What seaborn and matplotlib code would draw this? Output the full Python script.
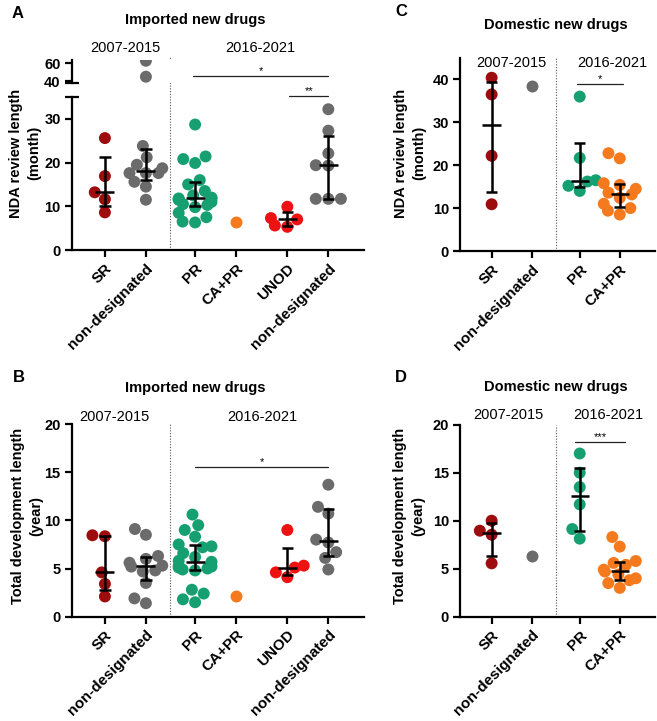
import numpy as np
import pandas as pd
import matplotlib
matplotlib.use("Agg")
import matplotlib.pyplot as plt
import seaborn as sns

# tick labels
imp_labels = ["SR", "non-designated", "PR", "CA+PR", "UNOD", "non-designated"]
dom_labels = ["SR", "non-designated", "PR", "CA+PR"]
periods = ["2007-2015", "2016-2021"]

# A: imported new drugs, NDA review length (month)
a_sr = [25.6, 16.9, 13.2, 11.6, 8.6]
a_nd1 = [62.7, 45.0, 23.8, 21.2, 19.5, 18.7, 17.6, 17.6, 17.6, 15.6, 14.5, 11.5]
a_pr = [28.7, 21.4, 20.8, 19.9, 16.0, 15.0, 13.5, 12.5, 12.0, 11.8, 11.8, 11.6,
        11.5, 11.0, 10.5, 10.3, 9.8, 8.5, 7.5, 6.5, 6.3]
a_capr = [6.5]
a_unod = [9.9, 7.3, 7.0, 5.6, 5.3]
a_nd2 = [32.2, 27.3, 22.1, 19.4, 19.3, 11.7, 11.7, 11.7]

# B: imported new drugs, total development length (year)
b_sr = [8.45, 8.35, 4.6, 3.4, 2.1]
b_nd1 = [9.1, 8.5, 6.3, 6.0, 5.6, 5.3, 5.2, 4.8, 4.7, 3.5, 1.9, 1.4]
b_pr = [10.6, 9.5, 9.0, 8.3, 7.5, 7.3, 7.2, 6.6, 6.2, 5.8, 5.7, 5.3, 5.2, 5.1,
        5.0, 4.9, 4.8, 2.8, 2.4, 1.8, 1.5]
b_capr = [2.15]
b_unod = [9.0, 5.3, 5.1, 4.6, 4.1]
b_nd2 = [13.7, 11.4, 10.7, 8.0, 7.7, 6.7, 6.1, 4.9]

# C: domestic new drugs, NDA review length (month)
c_sr = [40.4, 36.5, 22.2, 10.9]
c_nd1 = [38.4]
c_pr = [36.0, 21.7, 16.5, 16.2, 15.2, 14.0]
c_capr = [22.8, 21.6, 15.8, 15.4, 14.5, 13.6, 13.2, 12.4, 11.0, 10.0, 9.4, 8.5]

# D: domestic new drugs, total development length (year)
d_sr = [10.0, 8.96, 8.54, 5.56]
d_nd1 = [6.35]
d_pr = [17.0, 15.0, 13.5, 11.7, 9.13, 8.13]
d_capr = [8.3, 7.3, 5.8, 5.6, 5.4, 4.9, 4.7, 4.4, 4.0, 3.8, 3.5, 3.0]

imp_pos = [0, 1, 2.2, 3.2, 4.45, 5.45]
dom_pos = [0, 1, 2.2, 3.2]
DARKRED, GRAY, GREEN, ORANGE, RED = "#9E0D0D", "#6B6B6B", "#16A072", "#F57A1E", "#EE1111"
imp_colors = [DARKRED, GRAY, GREEN, ORANGE, RED, GRAY]
dom_colors = [DARKRED, GRAY, GREEN, ORANGE]

sns.set_style("ticks")
plt.rcParams["font.family"] = ["Liberation Sans", "DejaVu Sans"]
plt.rcParams["axes.linewidth"] = 1.6
for k in ["text.color", "axes.labelcolor", "xtick.color", "ytick.color", "axes.edgecolor"]:
    plt.rcParams[k] = "black"

W, H = 657, 721
fig = plt.figure(figsize=(W / 100, H / 100), dpi=100)


def rect(x0, y0, x1, y1):
    return [x0 / W, 1 - y1 / H, (x1 - x0) / W, (y1 - y0) / H]


def ftext(x, y, s, **kw):
    fig.text(x / W, 1 - y / H, s, ha="center", va="center", **kw)


def swarm(ax, groups, pos, colors, bars=True):
    n = [len(g) for g in groups]
    df = pd.DataFrame({"x": np.repeat(pos, n), "y": np.concatenate(groups),
                       "g": np.repeat([str(i) for i in range(len(groups))], n)})
    pal = {str(i): colors[i] for i in range(len(groups)) if n[i] > 0}
    sns.swarmplot(data=df, x="x", y="y", hue="g", palette=pal, native_scale=True,
                  size=8.6, linewidth=0, legend=False, ax=ax, zorder=3)
    if not bars:
        return
    # median with interquartile range
    for g, p in zip(groups, pos):
        if len(g) < 2:
            continue
        q1, med, q3 = np.percentile(g, [25, 50, 75], method="weibull")
        ax.vlines(p, q1, q3, color="k", lw=1.8, zorder=5)
        ax.hlines(med, p - 0.23, p + 0.23, color="k", lw=1.8, zorder=5)
        ax.hlines([q1, q3], p - 0.14, p + 0.14, color="k", lw=1.8, zorder=5)


def style(ax, pos, labels, xlim, ylim, yticks):
    ax.set_xlim(xlim)
    ax.set_ylim(ylim)
    ax.set_yticks(yticks)
    ax.set_xticks(pos)
    ax.set_xticklabels(labels, rotation=45, ha="right", va="top",
                       rotation_mode="anchor", fontweight="bold", fontsize=11)
    ax.tick_params(axis="both", length=5, width=1.6, pad=3)
    ax.tick_params(axis="y", labelsize=10.5)
    for t in ax.get_yticklabels():
        t.set_fontweight("bold")
    ax.set_xlabel("")
    ax.set_ylabel("")
    sns.despine(ax=ax)


def sig(ax, x0, x1, y, stars):
    ax.plot([x0, x1], [y, y], color="#222222", lw=0.9, clip_on=False)
    ax.text((x0 + x1) / 2, y, stars, ha="center", va="bottom", fontsize=8,
            clip_on=False)


imp_xlim = (-0.81, 6.32)
dom_xlim = (-0.79, 4.08)

# ---- A (broken y axis) ----
axA = fig.add_axes(rect(71.7, 97, 364, 250))
axAt = fig.add_axes(rect(71.7, 59.6, 364, 83))
a_groups = [a_sr, a_nd1, a_pr, a_capr, a_unod, a_nd2]
swarm(axA, a_groups, imp_pos, imp_colors)
swarm(axAt, [[v for v in g if v > 38] for g in a_groups], imp_pos, imp_colors, bars=False)
style(axA, imp_pos, imp_labels, imp_xlim, (0, 35), [0, 10, 20, 30])
style(axAt, imp_pos, imp_labels, imp_xlim, (38, 64), [40, 60])
axAt.spines["bottom"].set_visible(False)
axAt.tick_params(axis="x", bottom=False, labelbottom=False)
# break caps across the spine
for ax, yb in [(axAt, 0.0), (axA, 1.0)]:
    x_ax = np.array([-7, 7]) / (364 - 71.7)
    ax.plot(x_ax, [yb, yb], transform=ax.transAxes, color="k", lw=1.6,
            clip_on=False, solid_capstyle="butt")
axA.axvline(1.6, ymin=0, ymax=(250 - 57) / 153, color="#555555", lw=0.8,
            ls=(0, (1, 1.5)), clip_on=False)
sig(axAt, 2.15, 5.45, 46.1, "*")
sig(axA, 4.5, 5.45, 35.2, "**")

# ---- B ----
axB = fig.add_axes(rect(71.7, 424, 364, 616.7))
swarm(axB, [b_sr, b_nd1, b_pr, b_capr, b_unod, b_nd2], imp_pos, imp_colors)
style(axB, imp_pos, imp_labels, imp_xlim, (0, 20), [0, 5, 10, 15, 20])
axB.axvline(1.6, color="#555555", lw=0.8, ls=(0, (1, 1.5)))
sig(axB, 2.2, 5.45, 15.5, "*")

# ---- C ----
axC = fig.add_axes(rect(460, 58, 655, 251))
swarm(axC, [c_sr, c_nd1, c_pr, c_capr], dom_pos, dom_colors)
style(axC, dom_pos, dom_labels, dom_xlim, (0, 45), [0, 10, 20, 30, 40])
axC.axvline(1.6, color="#555555", lw=0.8, ls=(0, (1, 1.5)))
sig(axC, 2.12, 3.29, 38.9, "*")

# ---- D ----
axD = fig.add_axes(rect(460, 424.7, 655, 616.7))
swarm(axD, [d_sr, d_nd1, d_pr, d_capr], dom_pos, dom_colors)
style(axD, dom_pos, dom_labels, dom_xlim, (0, 20), [0, 5, 10, 15, 20])
axD.axvline(1.6, color="#555555", lw=0.8, ls=(0, (1, 1.5)))
sig(axD, 2.08, 3.33, 18.2, "***")

# ---- text ----
bold = dict(fontweight="bold")
ftext(18, 13, "A", fontsize=12, **bold)
ftext(19, 378, "B", fontsize=12, **bold)
ftext(401, 11, "C", fontsize=12, **bold)
ftext(401, 377, "D", fontsize=12, **bold)
ftext(195, 20, "Imported new drugs", fontsize=10.5, **bold)
ftext(195, 388, "Imported new drugs", fontsize=10.5, **bold)
ftext(556, 25, "Domestic new drugs", fontsize=10.5, **bold)
ftext(556, 387, "Domestic new drugs", fontsize=10.5, **bold)
for (x1, x2, y) in [(125, 260, 48), (114, 262, 417), (511, 612, 63), (508, 608, 415)]:
    ftext(x1, y, periods[0], fontsize=10.5)
    ftext(x2, y, periods[1], fontsize=10.5)
ftext(25, 153, "NDA review length\n(month)", fontsize=10.5, rotation=90,
      linespacing=1.4, **bold)
ftext(410, 153, "NDA review length\n(month)", fontsize=10.5, rotation=90,
      linespacing=1.4, **bold)
ftext(27, 516, "Total development length\n(year)", fontsize=10.5, rotation=90,
      linespacing=1.4, **bold)
ftext(409, 516, "Total development length\n(year)", fontsize=10.5, rotation=90,
      linespacing=1.4, **bold)

fig.savefig("out.png", dpi=100)
